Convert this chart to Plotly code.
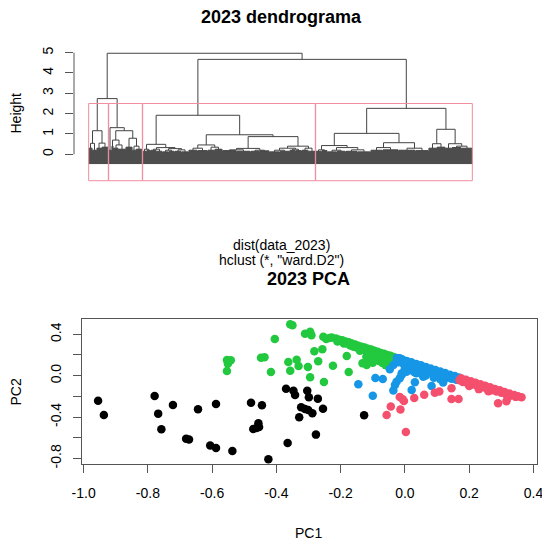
import plotly.graph_objects as go

W, H = 550, 545
OFF = 8   # the page body adds an 8 px margin, so place everything 8 px up and left

### dendrogram data: merges are [height, left, right], leaf bundles are (n_leaves, height)
A1 = [1.16, [0.54, (4, 0.30), (4, 0.20)], [0.55, (5, 0.30), (7, 0.35)]]
A2 = [1.31, (3, 0.20),
      [1.16, [0.70, (2, 0.40), [0.46, (5, 0.30), (7, 0.25)]],
             [0.79, (7, 0.35), [0.40, (3, 0.20), (7, 0.25)]]]]
M1 = [0.49, [0.25, (4, 0.15), (4, 0.20)],
      [0.33, [0.25, (6, 0.20), (6, 0.15)],
             [0.28, [0.20, (6, 0.12), (6, 0.15)], [0.22, (7, 0.15), (7, 0.12)]]]]
M2 = [0.96, [0.46, [0.30, (9, 0.20), (10, 0.18)], [0.35, (7, 0.20), (8, 0.25)]],
      [0.87, [0.29, [0.22, (14, 0.18), (14, 0.15)], [0.20, (9, 0.15), (10, 0.17)]],
             [0.40, [0.30, [0.20, (10, 0.12), (10, 0.15)], [0.25, (6, 0.20), (6, 0.18)]],
                    [0.30, (7, 0.20), (7, 0.15)]]]]
R1 = [1.03, [0.43, [0.22, (6, 0.15), (6, 0.18)],
             [0.33, [0.20, (9, 0.12), (9, 0.15)], [0.22, (12, 0.15), (13, 0.12)]]],
      [0.57, [0.33, (12, 0.20), (16, 0.22)], [0.30, (17, 0.20), (13, 0.18)]]]
R2 = [1.23, [0.52, (8, 0.30), (9, 0.35)], [0.52, (6, 0.30), [0.40, (10, 0.33), (11, 0.30)]]]
M = [1.92, M1, M2]
R = [2.26, R1, R2]
A = [2.74, A1, A2]
TREE = [4.97, A, [4.67, M, R]]
CLUSTERS = [A1, A2, M, R]          # rect.hclust(k = 4)
height_ticks = [0, 1, 2, 3, 4, 5]

### PCA scores, one pair of lists per cluster
black_pc1 = [-0.955, -0.937, -0.779, -0.768, -0.758, -0.722, -0.681, -0.672, -0.644, -0.606,
             -0.588, -0.588, -0.537, -0.479, -0.445, -0.472, -0.456, -0.454, -0.462, -0.425,
             -0.370, -0.347, -0.342, -0.304, -0.299, -0.271, -0.323, -0.311, -0.301, -0.288,
             -0.329, -0.255, -0.277, -0.365, -0.127]
black_pc2 = [-0.242, -0.380, -0.196, -0.367, -0.518, -0.283, -0.609, -0.618, -0.325, -0.676,
             -0.699, -0.273, -0.728, -0.261, -0.286, -0.515, -0.460, -0.496, -0.505, -0.808,
             -0.126, -0.145, -0.186, -0.145, -0.209, -0.222, -0.306, -0.322, -0.331, -0.364,
             -0.402, -0.319, -0.570, -0.650, -0.383]

green_pc1 = [-0.554, -0.542, -0.551, -0.554, -0.448, -0.437, -0.417, -0.405, -0.357, -0.350,
             -0.311, -0.295, -0.291, -0.254, -0.245, -0.235, -0.282, -0.257, -0.270, -0.363,
             -0.337, -0.331, -0.302, -0.357, -0.295, -0.252, -0.224, -0.181, -0.175, -0.132,
             -0.119,
             -0.228, -0.215, -0.205, -0.195, -0.185, -0.175, -0.165, -0.155, -0.145, -0.135,
             -0.125, -0.115, -0.105, -0.095, -0.085, -0.075, -0.065, -0.055, -0.045, -0.035,
             -0.210, -0.190, -0.170, -0.150, -0.130, -0.115, -0.100, -0.090, -0.080, -0.070,
             -0.060, -0.050, -0.110, -0.120, -0.100, -0.085, -0.065, -0.050, -0.040, -0.035,
             -0.070, -0.055, -0.045, -0.140, -0.160, -0.180]
green_pc2 = [0.152, 0.150, 0.115, 0.045, 0.174, 0.178, 0.036, 0.355, 0.497, 0.488,
             0.405, 0.425, 0.392, 0.377, 0.355, 0.365, 0.236, 0.255, 0.140, 0.132,
             0.155, 0.094, 0.084, 0.047, -0.015, -0.061, 0.095, 0.190, 0.036, 0.120,
             0.103,
             0.370, 0.360, 0.348, 0.342, 0.330, 0.322, 0.310, 0.302, 0.290, 0.280,
             0.272, 0.260, 0.252, 0.240, 0.232, 0.220, 0.212, 0.200, 0.192, 0.180,
             0.330, 0.312, 0.292, 0.272, 0.250, 0.222, 0.200, 0.172, 0.142, 0.122,
             0.102, 0.090, 0.150, 0.182, 0.124, 0.192, 0.160, 0.140, 0.122, 0.150,
             0.185, 0.170, 0.160, 0.240, 0.280, 0.310]

blue_pc1 = [-0.025, -0.010, 0.005, 0.020, 0.035, 0.050, 0.065, 0.080, 0.095, 0.110,
            0.125, 0.140, 0.155, 0.168,
            -0.020, -0.005, 0.010, 0.025, 0.040, 0.055, 0.070, 0.085, 0.100, 0.115,
            0.130, 0.145, 0.160, 0.000, 0.015, 0.030, 0.050, 0.065, 0.090, 0.110,
            -0.016, -0.005, 0.005,
            -0.145, -0.100, -0.092, -0.069, -0.047, -0.036, -0.031, -0.026, -0.016, -0.010,
            -0.036, -0.026, 0.021, 0.031, 0.083, -0.010, 0.005, 0.036, 0.057, 0.119]
blue_pc2 = [0.172, 0.160, 0.143, 0.130, 0.114, 0.100, 0.085, 0.070, 0.055, 0.040,
            0.026, 0.010, -0.004, -0.018,
            0.130, 0.115, 0.100, 0.086, 0.070, 0.056, 0.040, 0.026, 0.010, -0.004,
            -0.020, -0.030, -0.040, 0.072, 0.052, 0.032, 0.020, 0.002, -0.020, -0.034,
            0.168, 0.150, 0.135,
            -0.083, -0.194, -0.022, -0.033, 0.062, -0.143, -0.090, -0.058, -0.025, 0.007,
            0.103, 0.135, -0.138, -0.064, -0.100, 0.023, 0.039, 0.023, -0.010, -0.067]

red_pc1 = [0.175, 0.190, 0.205, 0.220, 0.235, 0.250, 0.265, 0.280, 0.295, 0.310,
           0.325, 0.340, 0.352, 0.363,
           0.180, 0.195, 0.210, 0.225, 0.240, 0.255, 0.270, 0.285, 0.300, 0.315,
           0.330, 0.345, 0.170, 0.200, 0.230, 0.260, 0.320,
           -0.057, -0.044, -0.014, -0.016, -0.007, -0.003, 0.029, 0.060, 0.093, 0.107,
           0.145, 0.145, 0.167, 0.003, 0.290, 0.316]
red_pc2 = [-0.024, -0.040, -0.053, -0.068, -0.084, -0.098, -0.112, -0.128, -0.142, -0.158,
           -0.172, -0.186, -0.198, -0.209,
           -0.060, -0.072, -0.086, -0.100, -0.112, -0.126, -0.140, -0.152, -0.166, -0.180,
           -0.192, -0.205, -0.045, -0.100, -0.130, -0.150, -0.210,
           -0.380, -0.297, -0.328, -0.206, -0.228, -0.245, -0.215, -0.184, -0.164, -0.152,
           -0.122, -0.226, -0.226, -0.545, -0.267, -0.248]

pc1_ticks = [-1.0, -0.8, -0.6, -0.4, -0.2, 0.0, 0.2, 0.4]
pc1_labels = ["-1.0", "-0.8", "-0.6", "-0.4", "-0.2", "0.0", "0.2", "0.4"]
pc2_ticks = [-0.8, -0.6, -0.4, -0.2, 0.0, 0.2, 0.4]
pc2_labels = ["-0.8", "", "-0.4", "", "0.0", "", "0.4"]

FONT = "Liberation Sans, Arial, sans-serif"
LINE = "#444444"
LEAF_END = -0.48


def px(x):
    return (x - OFF) / W


def py(y):
    return 1 - (y - OFF) / H


# %%
### walk the tree, R style: node x is the mean of its children's x
seg_x, seg_y, leaf_x, leaf_y = [], [], [], []
pos = [0]


def walk(node):
    if isinstance(node, tuple):
        n, h = node
        xs = [pos[0] + i + 1 for i in range(n)]
        pos[0] += n
        for x in xs:
            leaf_x.extend([x, x, None])
            leaf_y.extend([h, LEAF_END, None])
        if n > 1:
            seg_x.extend([xs[0], xs[-1], None])
            seg_y.extend([h, h, None])
        return sum(xs) / n, h
    h, left, right = node
    xl, hl = walk(left)
    xr, hr = walk(right)
    seg_x.extend([xl, xl, xr, xr, None])
    seg_y.extend([hl, h, h, hr, None])
    return (xl + xr) / 2, h


def n_leaves(node):
    if isinstance(node, tuple):
        return node[0]
    return n_leaves(node[1]) + n_leaves(node[2])


walk(TREE)
cut = (R[0] + A[0]) / 2

traces = [
    go.Scatter(x=leaf_x, y=leaf_y, mode="lines", line=dict(color="#000000", width=0.9),
               hoverinfo="skip", showlegend=False, xaxis="x", yaxis="y"),
    go.Scatter(x=seg_x, y=seg_y, mode="lines", line=dict(color=LINE, width=1),
               hoverinfo="skip", showlegend=False, xaxis="x", yaxis="y"),
]
for xs, ys, col in [(green_pc1, green_pc2, "#22C83E"), (blue_pc1, blue_pc2, "#1696E6"),
                    (red_pc1, red_pc2, "#F4506E"), (black_pc1, black_pc2, "#000000")]:
    traces.append(go.Scatter(x=xs, y=ys, mode="markers", marker=dict(size=8.5, color=col),
                             hoverinfo="skip", showlegend=False, xaxis="x2", yaxis="y2"))

shapes = [dict(type="line", xref="paper", yref="y", x0=px(74), x1=px(74), y0=0, y1=5,
               line=dict(color="#555555", width=1))]
start = 1
for cl in CLUSTERS:
    n = n_leaves(cl)
    shapes.append(dict(type="rect", xref="x", yref="y", x0=start - 0.34, x1=start + n - 1 + 0.33,
                       y0=-1.30, y1=cut, line=dict(color="#F08CA0", width=1)))
    start += n


def note(text, x, y, size=14, angle=0):
    return dict(text=text, x=px(x), y=py(y), xref="paper", yref="paper", showarrow=False,
                xanchor="center", yanchor="middle", textangle=angle,
                font=dict(family=FONT, size=size, color="black"))


annotations = [
    note("<b>2023 dendrograma</b>", 281, 17, size=18),
    note("Height", 15.5, 113, angle=-90),
    note("dist(data_2023)", 281, 245),
    note('hclust (*, "ward.D2")', 281, 260),
    note("<b>2023 PCA</b>", 308, 279, size=18),
    note("PC1", 308.5, 532.5),
    note("PC2", 15.5, 392, angle=-90),
]

tick_font = dict(family=FONT, size=14, color="black")
fig = go.Figure(data=traces)
fig.update_layout(
    width=W, height=H, margin=dict(l=0, r=0, t=0, b=0, autoexpand=False),
    paper_bgcolor="white", plot_bgcolor="white",
    font=dict(family=FONT),
    shapes=shapes, annotations=annotations,
    xaxis=dict(domain=[px(74), px(488)], range=[-14, 400], visible=False),
    yaxis=dict(domain=[py(190), py(40)], range=[(154.3 - 190) / 20.33, (154.3 - 40) / 20.33],
               tickvals=height_ticks, ticktext=[str(t) for t in height_ticks],
               tickangle=-90, ticks="outside", ticklen=8, tickcolor="#555555",
               showline=False, showgrid=False, zeroline=False, tickfont=tick_font,
               ticklabelstandoff=6, automargin=False),
    xaxis2=dict(domain=[px(81.7), px(537.3)], range=[-1.006, 0.412], anchor="y2",
                tickvals=pc1_ticks, ticktext=pc1_labels, ticks="outside", ticklen=8,
                tickcolor="#555555", showline=True, mirror=True, linecolor="#555555",
                showgrid=False, zeroline=False, tickfont=tick_font, ticklabelstandoff=8,
                automargin=False),
    yaxis2=dict(domain=[py(464.3), py(319)], range=[-0.857, 0.548], anchor="x2",
                tickvals=pc2_ticks, ticktext=pc2_labels, tickangle=-90, ticks="outside",
                ticklen=8, tickcolor="#555555", showline=True, mirror=True,
                linecolor="#555555", showgrid=False, zeroline=False, tickfont=tick_font,
                ticklabelstandoff=6, automargin=False),
)

fig.write_html("out.html")
